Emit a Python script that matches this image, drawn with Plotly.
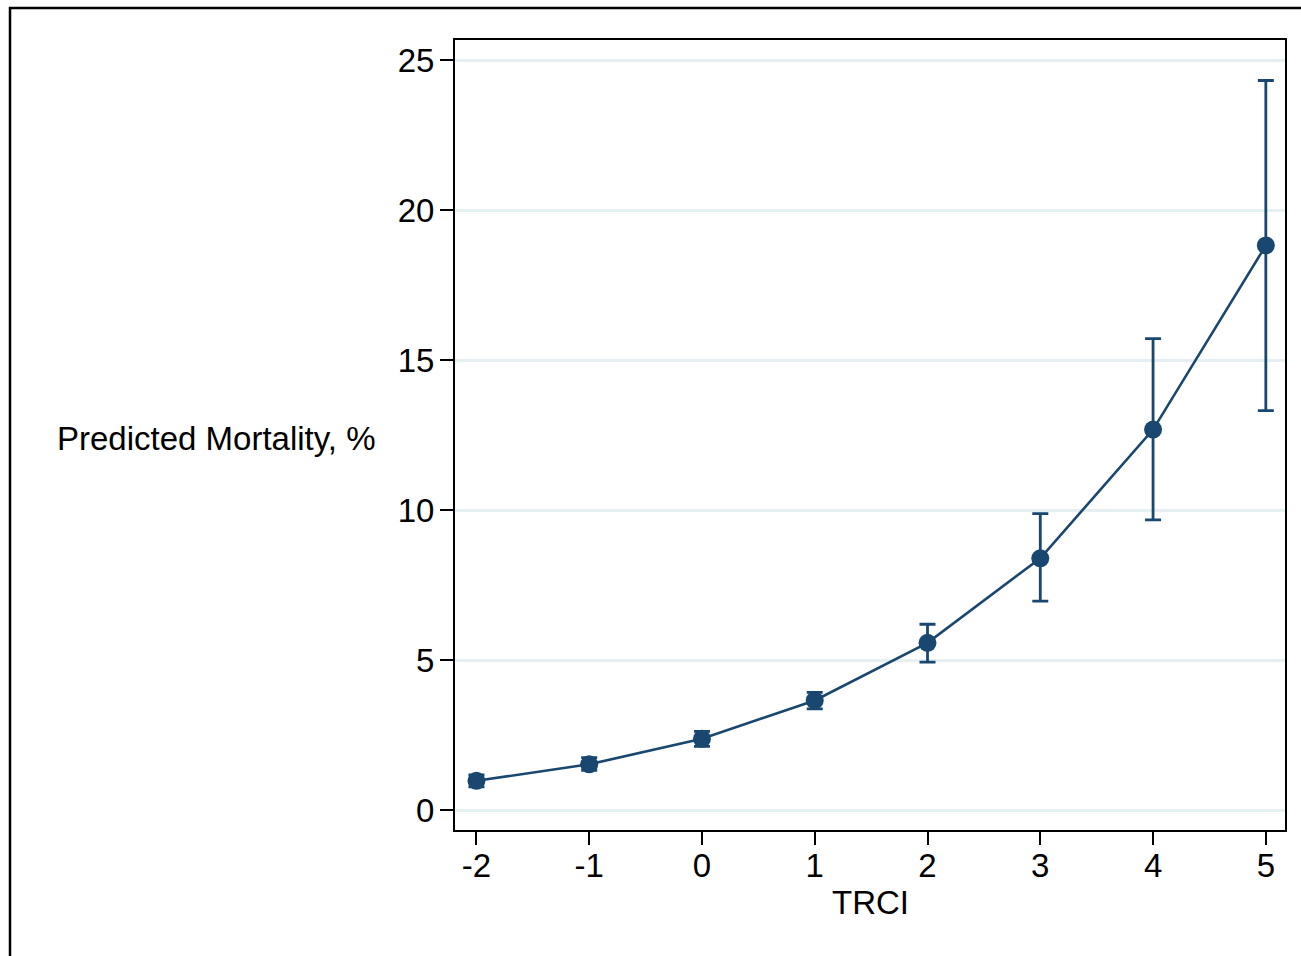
import plotly.graph_objects as go

trci = [-2, -1, 0, 1, 2, 3, 4, 5]
mortality = [0.98, 1.53, 2.38, 3.66, 5.58, 8.40, 12.69, 18.83]
ci_low = [0.78, 1.33, 2.13, 3.38, 4.94, 6.97, 9.68, 13.32]
ci_high = [1.18, 1.75, 2.63, 3.93, 6.20, 9.89, 15.72, 24.33]
y_ticks = [0, 5, 10, 15, 20, 25]
x_ticks = [-2, -1, 0, 1, 2, 3, 4, 5]
x_tick_labels = ["-2", "-1", "0", "1", "2", "3", "4", "5"]

NAVY = "#1a476f"
FONT = "Liberation Sans, Arial, Helvetica, sans-serif"
FS = 33

err_plus = [h - m for h, m in zip(ci_high, mortality)]
err_minus = [m - l for m, l in zip(mortality, ci_low)]

fig = go.Figure()
fig.add_trace(go.Scatter(
    x=trci, y=mortality, mode="lines+markers",
    line=dict(color=NAVY, width=2.6),
    marker=dict(color=NAVY, size=18),
    error_y=dict(type="data", symmetric=False, array=err_plus, arrayminus=err_minus,
                 color=NAVY, thickness=2.8, width=8),
    showlegend=False,
))

fig.update_layout(
    width=1301, height=956,
    margin=dict(l=455, r=16, t=40, b=126),
    paper_bgcolor="white", plot_bgcolor="white",
    font=dict(family=FONT, size=FS, color="black"),
    xaxis=dict(range=[-2.19, 5.17], tickvals=x_ticks, ticktext=x_tick_labels,
               ticks="outside", ticklen=13,
               tickwidth=1.8, tickcolor="black", showline=True, linecolor="black",
               linewidth=2, mirror=True, showgrid=False, zeroline=False,
               tickfont=dict(size=FS), ticklabelstandoff=-8),
    yaxis=dict(range=[-0.66, 25.68], tickvals=y_ticks, ticks="outside", ticklen=13,
               tickwidth=1.8, tickcolor="black", showline=True, linecolor="black",
               linewidth=2, mirror=True, showgrid=True, gridcolor="#e6eff1",
               gridwidth=2.5, zeroline=False, tickfont=dict(size=FS), ticklabelstandoff=-1),
)

fig.add_annotation(text="Predicted Mortality, %", xref="paper", yref="paper",
                   x=(216 - 455) / 830, y=(830 - 438) / 790, showarrow=False,
                   xanchor="center", yanchor="middle", font=dict(size=FS))
fig.add_annotation(text="TRCI", xref="paper", yref="paper",
                   x=0.5, y=(830 - 902) / 790, showarrow=False,
                   xanchor="center", yanchor="middle", font=dict(size=FS))

fig.add_shape(type="rect", xref="paper", yref="paper",
              x0=(10 - 455) / 830, x1=1.2, y0=-0.5, y1=(830 - 8) / 790,
              line=dict(color="black", width=2.5), fillcolor="rgba(0,0,0,0)", layer="below")

fig.write_html("out.html")
